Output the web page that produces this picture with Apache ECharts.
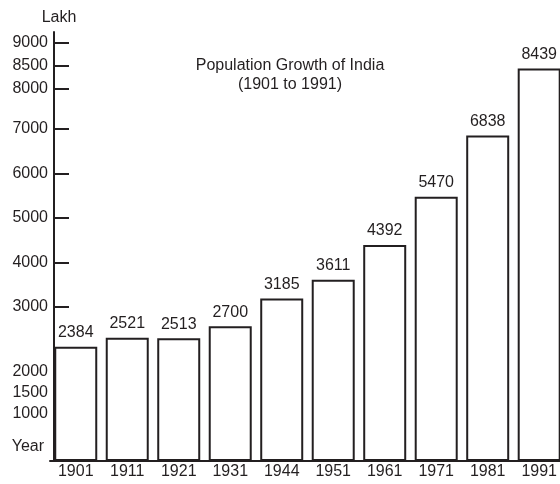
<!DOCTYPE html>
<html>
<head>
<meta charset="utf-8">
<script src="https://cdn.jsdelivr.net/npm/echarts@6/dist/echarts.min.js"></script>
<style>
  html, body { margin: 0; padding: 0; background: #fff; }
  #chart { width: 560px; height: 484px; }
</style>
</head>
<body>
<div id="chart"></div>
<script>
// census years and population (lakh)
var years = ['1901', '1911', '1921', '1931', '1944', '1951', '1961', '1971', '1981', '1991'];
var population = [2384, 2521, 2513, 2700, 3185, 3611, 4392, 5470, 6838, 8439];

// the y axis is drawn uneven in the original, so these are its tick values
var yTicks = [1000, 1500, 2000, 3000, 4000, 5000, 6000, 7000, 8000, 8500, 9000];
// where each tick sits on the axis (display units from the baseline)
var yTickPos = [47.3, 68.7, 89.3, 154.3, 198.3, 243.3, 287.7, 332.7, 372.7, 395.3, 418.3];

var ink = '#231f20';
var font = 'Arial, "Liberation Sans", sans-serif';

// piecewise scale through the tick knots
function yScale(v) {
  var xs = [0].concat(yTicks), ys = [0].concat(yTickPos);
  for (var i = 1; i < xs.length; i++) {
    if (v <= xs[i]) {
      return ys[i - 1] + (v - xs[i - 1]) / (xs[i] - xs[i - 1]) * (ys[i] - ys[i - 1]);
    }
  }
  var n = xs.length - 1;
  return ys[n] + (v - xs[n]) / (xs[n] - xs[n - 1]) * (ys[n] - ys[n - 1]);
}

function tickLabel(v) {
  var best = 0;
  for (var i = 0; i < yTickPos.length; i++) {
    if (Math.abs(yTickPos[i] - v) < Math.abs(yTickPos[best] - v)) best = i;
  }
  return String(yTicks[best]);
}

var chart = echarts.init(document.getElementById('chart'));
var tickPos = yTicks.map(yScale);
var yearIdx = years.map(function (y, i) { return i; });

var option = {
  animation: false,
  backgroundColor: '#fff',
  title: {
    text: 'Population Growth of India\n(1901 to 1991)',
    left: 285,
    top: 51,
    textAlign: 'center',
    textStyle: {
      fontFamily: font,
      fontSize: 16,
      fontWeight: 'normal',
      lineHeight: 19,
      color: ink
    }
  },
  grid: {
    left: 50,
    right: 0,
    top: 32,
    bottom: 23
  },
  // last bar runs off the right edge in the original, so a value axis is used
  xAxis: {
    type: 'value',
    min: -0.5,
    max: 9.4,
    name: 'Year',
    nameLocation: 'start',
    nameGap: 6,
    nameTextStyle: {
      fontFamily: font,
      fontSize: 16,
      color: ink,
      verticalAlign: 'bottom',
      padding: [0, 0, 6, 0]
    },
    axisLine: { show: true, onZero: false, lineStyle: { color: ink, width: 2 } },
    axisTick: { show: false },
    splitLine: { show: false },
    axisLabel: {
      fontFamily: font,
      fontSize: 16,
      color: ink,
      margin: 3,
      customValues: yearIdx,
      formatter: function (v) { return years[Math.round(v)]; }
    }
  },
  yAxis: {
    type: 'value',
    min: 0,
    max: 429,
    offset: -4,
    name: 'Lakh',
    nameLocation: 'end',
    nameGap: 6,
    nameTextStyle: {
      fontFamily: font,
      fontSize: 16,
      color: ink,
      padding: [0, 0, 0, 10]
    },
    axisLine: { show: true, onZero: false, lineStyle: { color: ink, width: 2 } },
    axisTick: {
      show: true,
      inside: true,
      length: 15,
      customValues: tickPos,
      lineStyle: { color: ink, width: 2 }
    },
    axisLabel: {
      fontFamily: font,
      fontSize: 16,
      color: ink,
      margin: 6,
      customValues: tickPos,
      formatter: tickLabel
    },
    splitLine: { show: false }
  },
  series: [{
    type: 'bar',
    data: population.map(function (v, i) { return [i, yScale(v)]; }),
    barWidth: 43,
    itemStyle: {
      color: '#fff',
      borderColor: ink,
      borderWidth: 2
    },
    label: {
      show: true,
      position: 'top',
      distance: 6,
      fontFamily: font,
      fontSize: 16,
      color: ink,
      formatter: function (p) { return String(population[p.dataIndex]); }
    }
  }]
};

chart.setOption(option);
</script>
</body>
</html>
